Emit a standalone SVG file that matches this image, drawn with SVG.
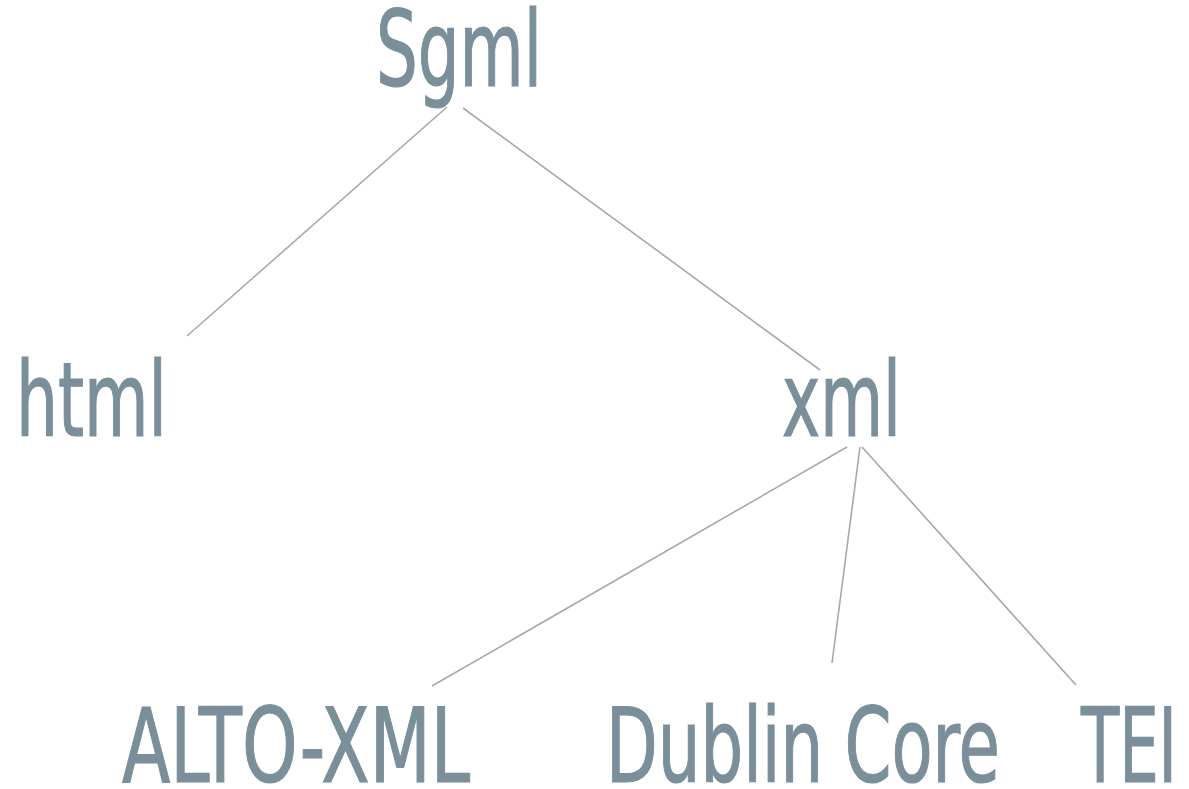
<svg xmlns="http://www.w3.org/2000/svg" width="1189" height="789" viewBox="0 0 1189 789">
<style>
.t{font-family:"DejaVu Sans Condensed","Liberation Sans Narrow","Liberation Sans",sans-serif;font-size:104px;fill:#7a8f9a;stroke:#7a8f9a;stroke-width:1.2px;}
.c line{stroke:#a8a8a8;stroke-width:1.6;}
</style>
<rect width="1189" height="789" fill="#ffffff"/>
<g class="c" id="connectors">
<line x1="447" y1="107" x2="187" y2="336"/>
<line x1="463" y1="108" x2="820" y2="370"/>
<line x1="847" y1="447" x2="432" y2="686"/>
<line x1="860" y1="447" x2="832" y2="663"/>
<line x1="862" y1="447" x2="1076" y2="685"/>
</g>
<g id="sgml"><text class="t" x="376" y="86" textLength="166" lengthAdjust="spacingAndGlyphs" style="font-size:106px">Sgml</text></g>
<g id="html"><text class="t" x="16" y="436" textLength="151" lengthAdjust="spacingAndGlyphs">html</text></g>
<g id="xml"><text class="t" x="782" y="436" textLength="119" lengthAdjust="spacingAndGlyphs">xml</text></g>
<g id="alto"><text class="t" x="122" y="782" textLength="348" lengthAdjust="spacingAndGlyphs">ALTO-XML</text></g>
<g id="dublin"><text class="t" x="606" y="782" textLength="394" lengthAdjust="spacingAndGlyphs">Dublin Core</text></g>
<g id="tei"><text class="t" x="1081" y="782" textLength="96" lengthAdjust="spacingAndGlyphs">TEI</text></g>
</svg>
